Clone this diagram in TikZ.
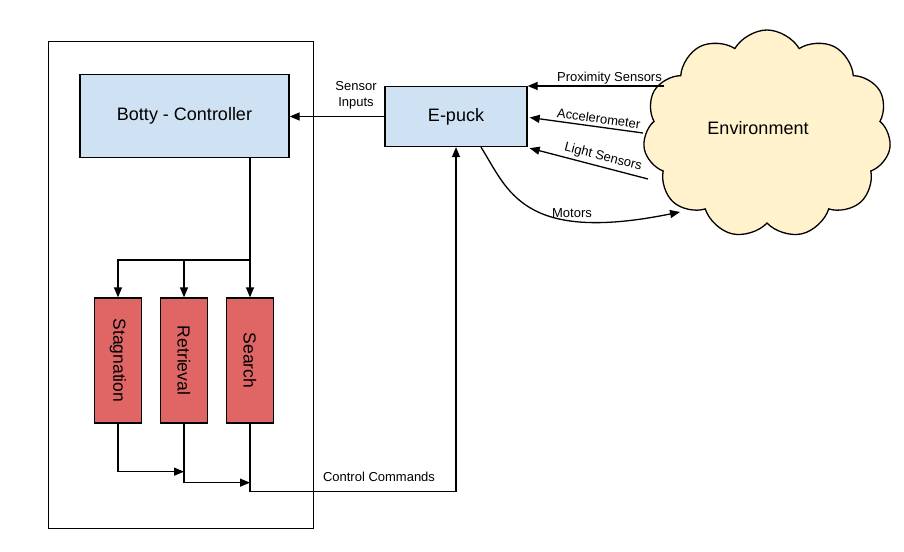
\documentclass[tikz,border=0pt]{standalone}
\usepackage{fontspec}
\setmainfont{Liberation Sans}
\usetikzlibrary{arrows.meta,shapes.symbols,calc}
\definecolor{boxblue}{HTML}{CFE2F3}
\definecolor{boxred}{HTML}{E06666}
\definecolor{cloudy}{HTML}{FFF2CC}
\begin{document}
\begin{tikzpicture}[x=1pt,y=-1pt,line width=1.3pt,
  >={Triangle[length=10pt,width=8pt]},
  bluebox/.style={draw,fill=boxblue,font=\fontsize{18}{20}\selectfont},
  redbox/.style={draw,fill=boxred,minimum width=47,minimum height=125},
  lbl/.style={font=\fontsize{13}{16}\selectfont,inner sep=1pt},
  vlbl/.style={rotate=-90,font=\fontsize{17.5}{20}\selectfont}]
\useasboundingbox (0,0) rectangle (904,551);
\node[draw,minimum width=265,minimum height=487,anchor=north west] (frame) at (48,41) {};
\node[bluebox,minimum width=209,minimum height=83] (botty) at (184.5,116) {Botty - Controller};
\node[bluebox,minimum width=142,minimum height=60] (epuck) at (456,116.5) {E-puck};
\node[redbox,label={[vlbl]center:Stagnation}] (stag) at (118,360.5) {};
\node[redbox,label={[vlbl]center:Retrieval}] (retr) at (184,360.5) {};
\node[redbox,label={[vlbl]center:Search}] (search) at (250,360.5) {};
\node[cloud,cloud puffs=11,cloud puff arc=120,aspect=1.2,draw,fill=cloudy,
  minimum width=248,minimum height=208,
  label={[font=\fontsize{18}{20}\selectfont,shift={(-9pt,6pt)}]center:Environment}] (env) at (767,134) {};
\coordinate (p1) at (664,86);
\coordinate (p2) at (643,133);
\coordinate (p3) at (648,179);
\coordinate (p4) at (680,212);
\coordinate (br) at (250,260);
% sensor inputs
\draw[->] (epuck.west) -- (epuck.west -| botty.east);
\node[lbl,align=center] (sin) at (356,95) {Sensor\\Inputs};
% environment to epuck
\draw[->] (p1) -- node[lbl,above,pos=0.4] {Proximity Sensors} (p1 -| epuck.east);
\draw[->] (p2) -- node[lbl,above=2pt,sloped,pos=0.4] {Accelerometer} ($(epuck.east)+(2,1)$);
\draw[->] (p3) -- node[lbl,above=2pt,sloped,pos=0.4] {Light Sensors} ($(epuck.south east)+(2,1)$);
\draw[->] ($(epuck.south)+(25,0)$) .. controls (508,190) and (522,244) .. (p4);
\node[lbl] (mot) at (572,213) {Motors};
% controller to behaviours
\draw[->] (search.north |- botty.south) -- (search.north);
\draw[->] (br) -| (stag.north);
\draw[->] (retr.north |- br) -- (retr.north);
% behaviours bottom
\draw[->] (stag.south) |- ($(retr.south)+(0,48)$);
\draw[->] (retr.south) |- ($(search.south)+(0,59)$);
\draw[->] (search.south) -- ++(0,68) -| (epuck.south);
\node[lbl] (cc) at (379,477) {Control Commands};
\end{tikzpicture}
\end{document}
